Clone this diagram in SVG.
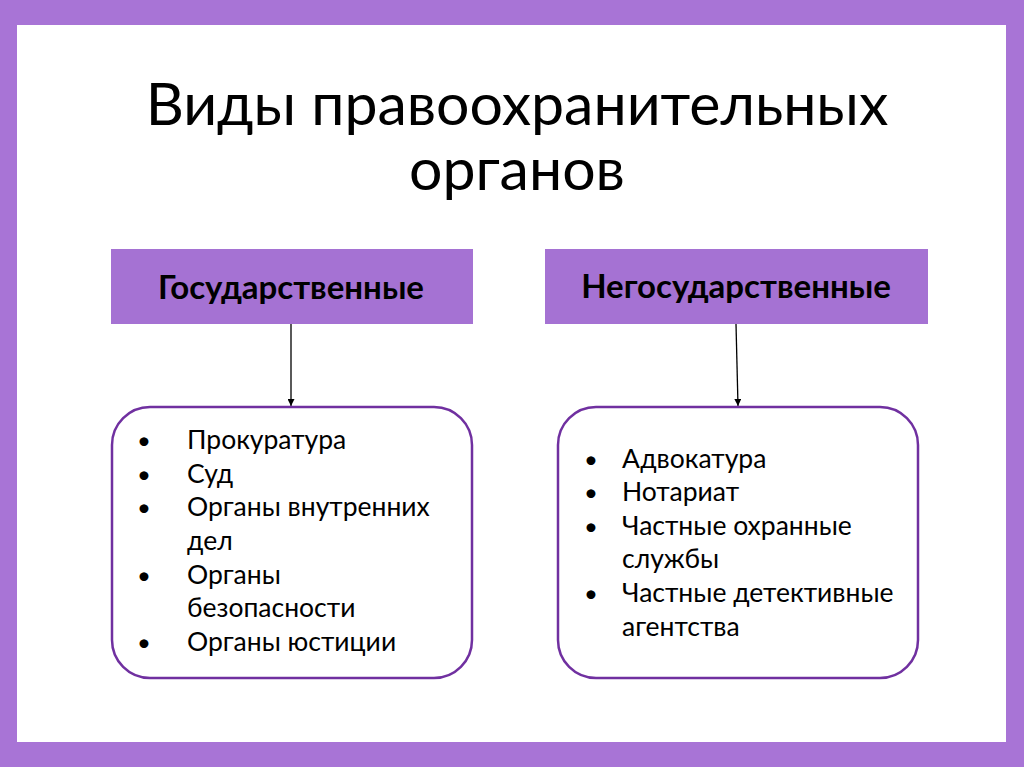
<svg xmlns="http://www.w3.org/2000/svg" width="1024" height="767" viewBox="0 0 1024 767">
<defs>
<style>
.t{font-family:Lato,"Open Sans","Noto Sans",sans-serif;fill:#000}
.title{font-size:59px}
.hdr{font-size:33px;font-weight:bold}
.li{font-size:26.5px}
.bul{font-size:24px}
.hbox{fill:#a572d3}
.lbox{fill:#fff;stroke:#7030a0;stroke-width:2.5}
.conn{stroke:#000;stroke-width:1.3;fill:none}
</style>
<marker id="ah" viewBox="0 0 10 10" refX="10" refY="5" markerWidth="7" markerHeight="7" markerUnits="userSpaceOnUse" orient="auto">
<path d="M0,0 L10,5 L0,10 z" fill="#000"/>
</marker>
</defs>
<rect x="0" y="0" width="1024" height="767" fill="#a874d6"/>
<rect x="17" y="25" width="989" height="717" fill="#fff"/>
<g id="title">
<text class="t title" x="517" y="125" text-anchor="middle">Виды правоохранительных</text>
<text class="t title" x="517" y="190" text-anchor="middle">органов</text>
</g>
<g id="state">
<rect class="hbox" x="111" y="249" width="362" height="75"/>
<text class="t hdr" x="291" y="299" text-anchor="middle">Государственные</text>
</g>
<g id="nonstate">
<rect class="hbox" x="545" y="249" width="383" height="75"/>
<text class="t hdr" x="736" y="298" text-anchor="middle">Негосударственные</text>
</g>
<g id="connectors">
<line class="conn" x1="291" y1="324" x2="291" y2="406" marker-end="url(#ah)"/>
<line class="conn" x1="736" y1="324" x2="738" y2="406" marker-end="url(#ah)"/>
</g>
<g id="state-list">
<rect class="lbox" x="112" y="407" width="360" height="271" rx="38"/>
<text class="t bul" x="137" y="449">•</text><text class="t li" x="187" y="449">Прокуратура</text>
<text class="t bul" x="137" y="483">•</text><text class="t li" x="187" y="483">Суд</text>
<text class="t bul" x="137" y="516">•</text><text class="t li" x="187" y="516">Органы внутренних</text>
<text class="t li" x="187" y="550">дел</text>
<text class="t bul" x="137" y="584">•</text><text class="t li" x="187" y="584">Органы</text>
<text class="t li" x="187" y="617">безопасности</text>
<text class="t bul" x="137" y="651">•</text><text class="t li" x="187" y="651">Органы юстиции</text>
</g>
<g id="nonstate-list">
<rect class="lbox" x="558" y="407" width="360" height="271" rx="38"/>
<text class="t bul" x="584" y="468">•</text><text class="t li" x="622" y="468">Адвокатура</text>
<text class="t bul" x="584" y="501">•</text><text class="t li" x="622" y="501">Нотариат</text>
<text class="t bul" x="584" y="535">•</text><text class="t li" x="622" y="535">Частные охранные</text>
<text class="t li" x="622" y="568">службы</text>
<text class="t bul" x="584" y="602">•</text><text class="t li" x="622" y="602">Частные детективные</text>
<text class="t li" x="622" y="636">агентства</text>
</g>
</svg>
